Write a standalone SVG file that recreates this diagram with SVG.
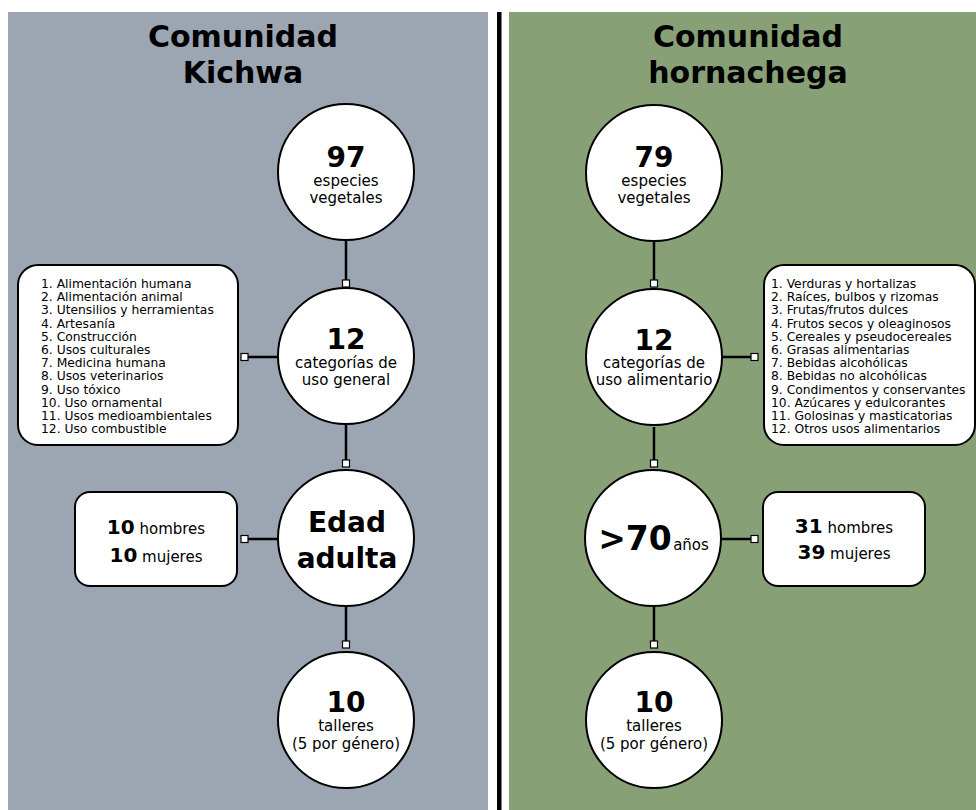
<svg xmlns="http://www.w3.org/2000/svg" width="976" height="810" viewBox="0 0 976 810">
<style>
.title{font-family:"DejaVu Sans",Verdana,sans-serif;font-weight:bold;font-size:30px;fill:#000;text-anchor:middle}
.num{font-family:"DejaVu Sans",Verdana,sans-serif;font-weight:bold;font-size:28px;fill:#000;text-anchor:middle}
.sub{font-family:"DejaVu Sans",Verdana,sans-serif;font-size:15px;fill:#000;text-anchor:middle}
.list{font-family:"DejaVu Sans",Verdana,sans-serif;font-size:12.3px;fill:#000}
.b{font-weight:bold;font-size:20px}
.node{fill:#fff;stroke:#000;stroke-width:2}
.conn line{stroke:#000;stroke-width:2.5}
.conn rect{fill:#fff;stroke:#000;stroke-width:1.2}
</style>
<rect x="0" y="0" width="976" height="810" fill="#fff"/>
<rect x="8" y="12" width="480" height="798" fill="#9ba6b2"/>
<rect x="509" y="12" width="467" height="798" fill="#87a076"/>
<rect x="497" y="12" width="4.5" height="798" fill="#000"/>

<g id="title-left"><text class="title" x="243" y="47">Comunidad</text><text class="title" x="243" y="83">Kichwa</text></g>
<g id="title-right"><text class="title" x="748" y="47">Comunidad</text><text class="title" x="748" y="83">hornachega</text></g>

<g class="conn" id="connectors">
<line x1="346" y1="240" x2="346" y2="283"/><rect x="342.5" y="280" width="7" height="7"/>
<line x1="346" y1="425" x2="346" y2="463"/><rect x="342.5" y="460" width="7" height="7"/>
<line x1="346" y1="607" x2="346" y2="644"/><rect x="342.5" y="641" width="7" height="7"/>
<line x1="277" y1="357" x2="245" y2="357"/><rect x="241" y="353.5" width="7" height="7"/>
<line x1="277" y1="539" x2="245" y2="539"/><rect x="241" y="535.5" width="7" height="7"/>
<line x1="654" y1="242" x2="654" y2="283"/><rect x="650.5" y="280" width="7" height="7"/>
<line x1="654" y1="427" x2="654" y2="463"/><rect x="650.5" y="460" width="7" height="7"/>
<line x1="654" y1="607" x2="654" y2="644"/><rect x="650.5" y="641" width="7" height="7"/>
<line x1="722" y1="357" x2="755" y2="357"/><rect x="751" y="353.5" width="7" height="7"/>
<line x1="722" y1="539" x2="755" y2="539"/><rect x="751" y="535.5" width="7" height="7"/>
</g>

<g id="k-species"><circle class="node" cx="346" cy="172" r="68"/><text class="num" x="346" y="167">97</text><text class="sub" x="346" y="186">especies</text><text class="sub" x="346" y="203">vegetales</text></g>
<g id="k-categories"><circle class="node" cx="346" cy="356" r="68"/><text class="num" x="346" y="349">12</text><text class="sub" x="346" y="368">categorías de</text><text class="sub" x="346" y="385">uso general</text></g>
<g id="k-age"><circle class="node" cx="346" cy="538" r="68"/><text class="num" x="347" y="532">Edad</text><text class="num" x="347" y="568">adulta</text></g>
<g id="k-workshops"><circle class="node" cx="346" cy="720" r="68"/><text class="num" x="346" y="712">10</text><text class="sub" x="346" y="731">talleres</text><text class="sub" x="346" y="749">(5 por género)</text></g>

<g id="k-list"><rect class="node" x="18" y="265" width="220" height="180" rx="20"/>
<text class="list">
<tspan x="41" y="288">1. Alimentación humana</tspan>
<tspan x="41" y="301.2">2. Alimentación animal</tspan>
<tspan x="41" y="314.4">3. Utensilios y herramientas</tspan>
<tspan x="41" y="327.6">4. Artesanía</tspan>
<tspan x="41" y="340.8">5. Construcción</tspan>
<tspan x="41" y="354">6. Usos culturales</tspan>
<tspan x="41" y="367.2">7. Medicina humana</tspan>
<tspan x="41" y="380.4">8. Usos veterinarios</tspan>
<tspan x="41" y="393.6">9. Uso tóxico</tspan>
<tspan x="41" y="406.8">10. Uso ornamental</tspan>
<tspan x="41" y="420">11. Usos medioambientales</tspan>
<tspan x="41" y="433.2">12. Uso combustible</tspan>
</text></g>

<g id="k-people"><rect class="node" x="75" y="492" width="162" height="94" rx="15"/>
<text class="sub" x="156" y="534"><tspan class="b">10</tspan> hombres</text>
<text class="sub" x="156" y="562"><tspan class="b">10</tspan> mujeres</text></g>

<g id="h-species"><circle class="node" cx="654" cy="173" r="68"/><text class="num" x="654" y="167">79</text><text class="sub" x="654" y="186">especies</text><text class="sub" x="654" y="203">vegetales</text></g>
<g id="h-categories"><circle class="node" cx="654" cy="357" r="68"/><text class="num" x="654" y="350">12</text><text class="sub" x="654" y="368">categorías de</text><text class="sub" x="654" y="385">uso alimentario</text></g>
<g id="h-age"><circle class="node" cx="653" cy="538" r="68"/><text class="num" x="635" y="550" style="font-size:33px">&gt;70</text><text class="sub" x="691" y="550">años</text></g>
<g id="h-workshops"><circle class="node" cx="654" cy="720" r="68"/><text class="num" x="654" y="712">10</text><text class="sub" x="654" y="731">talleres</text><text class="sub" x="654" y="749">(5 por género)</text></g>

<g id="h-list"><rect class="node" x="764" y="265" width="211" height="180" rx="20"/>
<text class="list">
<tspan x="771" y="288">1. Verduras y hortalizas</tspan>
<tspan x="771" y="301.2">2. Raíces, bulbos y rizomas</tspan>
<tspan x="771" y="314.4">3. Frutas/frutos dulces</tspan>
<tspan x="771" y="327.6">4. Frutos secos y oleaginosos</tspan>
<tspan x="771" y="340.8">5. Cereales y pseudocereales</tspan>
<tspan x="771" y="354">6. Grasas alimentarias</tspan>
<tspan x="771" y="367.2">7. Bebidas alcohólicas</tspan>
<tspan x="771" y="380.4">8. Bebidas no alcohólicas</tspan>
<tspan x="771" y="393.6">9. Condimentos y conservantes</tspan>
<tspan x="771" y="406.8">10. Azúcares y edulcorantes</tspan>
<tspan x="771" y="420">11. Golosinas y masticatorias</tspan>
<tspan x="771" y="433.2">12. Otros usos alimentarios</tspan>
</text></g>

<g id="h-people"><rect class="node" x="763" y="492" width="162" height="94" rx="15"/>
<text class="sub" x="844" y="533"><tspan class="b">31</tspan> hombres</text>
<text class="sub" x="844" y="559"><tspan class="b">39</tspan> mujeres</text></g>
</svg>
